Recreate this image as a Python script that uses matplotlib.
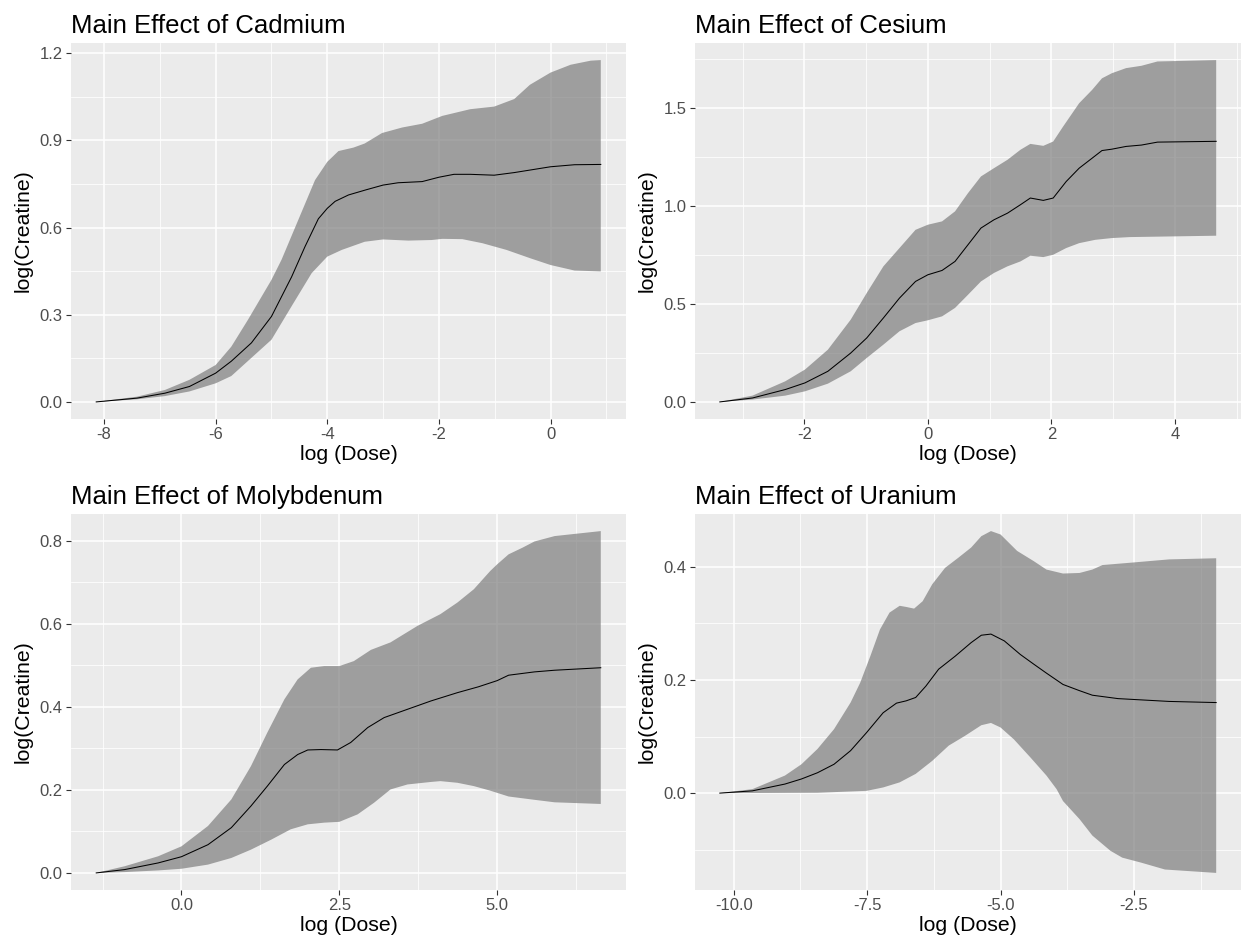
import numpy as np
import matplotlib
matplotlib.use("Agg")
import matplotlib.pyplot as plt
from matplotlib.ticker import FixedLocator, FormatStrFormatter

plt.rcParams['font.family'] = ['Liberation Sans', 'DejaVu Sans']
plt.rcParams['axes.unicode_minus'] = False

# ---- Cadmium ----
cd_x_mean = [-8.14, -7.41, -6.91, -6.47, -6.0, -5.72, -5.36, -5.0, -4.64, -4.40, -4.16, -4.0, -3.86,
             -3.62, -3.3, -3.0, -2.73, -2.3, -2.0, -1.73, -1.44, -1.01, -0.65, 0.0, 0.43, 0.90]
cd_mean = [0.0, 0.013, 0.03, 0.053, 0.099, 0.14, 0.203, 0.294, 0.43, 0.534, 0.63, 0.666, 0.69,
           0.712, 0.73, 0.746, 0.754, 0.758, 0.773, 0.783, 0.783, 0.78, 0.789, 0.809, 0.816, 0.817]
cd_x_up = [-8.14, -7.41, -6.91, -6.47, -6.0, -5.72, -5.42, -5.0, -4.82, -4.52, -4.22, -4.0, -3.80, -3.53,
           -3.33, -3.02, -2.66, -2.30, -1.94, -1.44, -1.01, -0.65, -0.37, 0.0, 0.36, 0.72, 0.90]
cd_up = [0.0, 0.018, 0.041, 0.076, 0.127, 0.19, 0.283, 0.42, 0.489, 0.626, 0.763, 0.826, 0.863, 0.875,
         0.889, 0.925, 0.944, 0.957, 0.984, 1.007, 1.016, 1.042, 1.091, 1.133, 1.16, 1.174, 1.176]
cd_x_lo = [-8.14, -7.41, -6.91, -6.47, -6.0, -5.72, -5.0, -4.64, -4.28, -4.0, -3.74, -3.33, -3.0, -2.55,
           -2.13, -1.94, -1.58, -1.22, -0.79, -0.36, 0.0, 0.43, 0.90]
cd_lo = [0.0, 0.009, 0.02, 0.036, 0.064, 0.089, 0.214, 0.329, 0.443, 0.5, 0.523, 0.551, 0.559, 0.555,
         0.557, 0.561, 0.56, 0.546, 0.523, 0.494, 0.471, 0.452, 0.449]

# ---- Cesium ----
cs_x_mean = [-3.37, -2.84, -2.31, -1.99, -1.62, -1.25, -0.99, -0.72, -0.46, -0.20, 0.0, 0.23, 0.44,
             0.65, 0.86, 1.07, 1.29, 1.50, 1.66, 1.87, 2.03, 2.24, 2.45, 2.66, 2.82, 2.98, 3.21,
             3.46, 3.72, 4.67]
cs_mean = [0.0, 0.02, 0.063, 0.097, 0.156, 0.249, 0.326, 0.428, 0.529, 0.614, 0.648, 0.67, 0.716,
           0.801, 0.886, 0.928, 0.962, 1.005, 1.039, 1.027, 1.039, 1.123, 1.191, 1.242, 1.281, 1.288,
           1.302, 1.309, 1.324, 1.328]
cs_x_up = [-3.37, -2.84, -2.31, -1.99, -1.62, -1.25, -0.99, -0.72, -0.46, -0.20, 0.0, 0.23, 0.44,
           0.65, 0.86, 1.07, 1.29, 1.50, 1.66, 1.87, 2.03, 2.19, 2.45, 2.66, 2.82, 2.98, 3.21,
           3.46, 3.72, 4.67]
cs_up = [0.0, 0.032, 0.105, 0.165, 0.266, 0.419, 0.555, 0.691, 0.784, 0.877, 0.903, 0.92, 0.971,
         1.064, 1.149, 1.191, 1.234, 1.285, 1.315, 1.305, 1.327, 1.403, 1.522, 1.59, 1.649, 1.675,
         1.701, 1.713, 1.735, 1.742]
cs_x_lo = [-3.37, -2.84, -2.31, -1.99, -1.62, -1.25, -0.99, -0.72, -0.46, -0.20, 0.0, 0.23, 0.44,
           0.65, 0.86, 1.07, 1.29, 1.50, 1.66, 1.87, 2.03, 2.24, 2.45, 2.71, 2.98, 3.27, 4.67]
cs_lo = [0.0, 0.012, 0.032, 0.054, 0.093, 0.156, 0.224, 0.292, 0.36, 0.402, 0.416, 0.436, 0.479,
         0.546, 0.614, 0.657, 0.691, 0.716, 0.745, 0.738, 0.75, 0.784, 0.809, 0.826, 0.835, 0.84, 0.847]

# ---- Molybdenum ----
mo_x_mean = [-1.35, -0.90, -0.37, 0.0, 0.42, 0.79, 1.10, 1.36, 1.63, 1.84, 2.0, 2.21, 2.47, 2.68,
             2.95, 3.21, 3.58, 3.95, 4.37, 4.70, 5.0, 5.18, 5.59, 5.91, 6.64]
mo_mean = [0.0, 0.008, 0.024, 0.039, 0.068, 0.109, 0.161, 0.209, 0.261, 0.285, 0.296, 0.297, 0.296,
           0.314, 0.35, 0.374, 0.394, 0.414, 0.434, 0.448, 0.463, 0.476, 0.484, 0.488, 0.494]
mo_x_up = [-1.35, -0.90, -0.37, 0.0, 0.42, 0.79, 1.10, 1.36, 1.63, 1.84, 2.05, 2.26, 2.50, 2.73,
           3.0, 3.31, 3.74, 4.10, 4.37, 4.63, 4.89, 5.0, 5.18, 5.40, 5.59, 5.91, 6.64]
mo_up = [0.0, 0.016, 0.04, 0.064, 0.113, 0.177, 0.257, 0.338, 0.418, 0.466, 0.494, 0.498, 0.498,
         0.51, 0.537, 0.555, 0.595, 0.623, 0.651, 0.683, 0.727, 0.743, 0.767, 0.783, 0.798, 0.811, 0.823]
mo_x_lo = [-1.35, -0.90, -0.37, 0.0, 0.42, 0.79, 1.10, 1.42, 1.73, 2.0, 2.26, 2.50, 2.79, 3.05,
           3.31, 3.58, 3.95, 4.10, 4.37, 4.63, 4.89, 5.18, 5.59, 5.91, 6.64]
mo_lo = [0.0, 0.002, 0.006, 0.01, 0.02, 0.036, 0.056, 0.08, 0.105, 0.117, 0.121, 0.123, 0.141, 0.169,
         0.201, 0.213, 0.219, 0.221, 0.217, 0.209, 0.198, 0.184, 0.176, 0.17, 0.166]

# ---- Uranium ----
u_x_mean = [-10.26, -9.65, -9.04, -8.73, -8.43, -8.12, -7.81, -7.51, -7.20, -6.95, -6.77, -6.59, -6.40,
            -6.16, -5.85, -5.55, -5.36, -5.18, -4.93, -4.63, -4.38, -4.14, -3.83, -3.52, -3.28,
            -2.80, -1.84, -0.96]
u_mean = [0.0, 0.004, 0.016, 0.025, 0.036, 0.051, 0.075, 0.107, 0.142, 0.159, 0.163, 0.169, 0.189,
          0.219, 0.242, 0.266, 0.279, 0.281, 0.269, 0.245, 0.228, 0.212, 0.192, 0.181, 0.173,
          0.167, 0.162, 0.16]
u_x_up = [-10.26, -9.65, -9.04, -8.73, -8.43, -8.12, -7.81, -7.63, -7.44, -7.26, -7.08, -6.89, -6.77,
          -6.62, -6.46, -6.28, -6.04, -5.79, -5.55, -5.36, -5.18, -5.0, -4.69, -4.38, -4.14, -3.83,
          -3.52, -3.28, -3.09, -2.58, -1.84, -0.96]
u_up = [0.0, 0.007, 0.031, 0.051, 0.078, 0.113, 0.16, 0.195, 0.242, 0.289, 0.319, 0.331, 0.329,
        0.326, 0.339, 0.369, 0.398, 0.416, 0.434, 0.454, 0.463, 0.457, 0.428, 0.41, 0.395, 0.388,
        0.389, 0.395, 0.403, 0.407, 0.413, 0.415]
u_x_lo = [-10.26, -8.43, -7.51, -7.20, -6.89, -6.59, -6.28, -5.97, -5.67, -5.36, -5.18, -5.0, -4.75,
          -4.44, -4.14, -3.95, -3.83, -3.52, -3.28, -2.94, -2.72, -2.36, -1.92, -0.96]
u_lo = [0.0, 0.0006, 0.004, 0.01, 0.019, 0.034, 0.057, 0.084, 0.101, 0.12, 0.124, 0.116, 0.095,
        0.063, 0.031, 0.007, -0.014, -0.046, -0.075, -0.102, -0.114, -0.123, -0.135, -0.141]

panels = [
    dict(title="Main Effect of Cadmium", xm=cd_x_mean, m=cd_mean, xu=cd_x_up, u=cd_up, xl=cd_x_lo, l=cd_lo,
         xmaj=[-8, -6, -4, -2, 0], xmin=[-9, -7, -5, -3, -1, 1], xfmt='%d',
         ymaj=[0.0, 0.3, 0.6, 0.9, 1.2], ymin=[0.15, 0.45, 0.75, 1.05], yfmt='%.1f',
         rect=[71, 43, 626, 419]),
    dict(title="Main Effect of Cesium", xm=cs_x_mean, m=cs_mean, xu=cs_x_up, u=cs_up, xl=cs_x_lo, l=cs_lo,
         xmaj=[-2, 0, 2, 4], xmin=[-3, -1, 1, 3, 5], xfmt='%d',
         ymaj=[0.0, 0.5, 1.0, 1.5], ymin=[0.25, 0.75, 1.25, 1.75], yfmt='%.1f',
         rect=[695, 43, 1241, 419]),
    dict(title="Main Effect of Molybdenum", xm=mo_x_mean, m=mo_mean, xu=mo_x_up, u=mo_up, xl=mo_x_lo, l=mo_lo,
         xmaj=[0.0, 2.5, 5.0], xmin=[-1.25, 1.25, 3.75, 6.25], xfmt='%.1f',
         ymaj=[0.0, 0.2, 0.4, 0.6, 0.8], ymin=[0.1, 0.3, 0.5, 0.7], yfmt='%.1f',
         rect=[71, 514, 626, 890]),
    dict(title="Main Effect of Uranium", xm=u_x_mean, m=u_mean, xu=u_x_up, u=u_up, xl=u_x_lo, l=u_lo,
         xmaj=[-10.0, -7.5, -5.0, -2.5], xmin=[-8.75, -6.25, -3.75, -1.25], xfmt='%.1f',
         ymaj=[0.0, 0.2, 0.4], ymin=[-0.1, 0.1, 0.3], yfmt='%.1f',
         rect=[695, 514, 1241, 890]),
]

W, H = 1244, 935
fig = plt.figure(figsize=(W / 100, H / 100), dpi=100)

for p in panels:
    x0, y0, x1, y1 = p['rect']
    ax = fig.add_axes([x0 / W, 1 - y1 / H, (x1 - x0) / W, (y1 - y0) / H])
    ax.set_facecolor('#EBEBEB')
    for s in ax.spines.values():
        s.set_visible(False)

    # ribbon polygon: upper edge forward, lower edge backward
    poly_x = np.concatenate([p['xu'], p['xl'][::-1]])
    poly_y = np.concatenate([p['u'], p['l'][::-1]])
    ax.fill(poly_x, poly_y, color='#757575', alpha=0.65, lw=0, zorder=2)
    ax.plot(p['xm'], p['m'], color='black', lw=0.75, zorder=3)

    # ggplot-style 5% expansion
    allx = p['xu'] + p['xl'] + p['xm']
    ally = p['u'] + p['l'] + p['m']
    dx = (max(allx) - min(allx)) * 0.05
    dy = (max(ally) - min(ally)) * 0.05
    ax.set_xlim(min(allx) - dx, max(allx) + dx)
    ax.set_ylim(min(ally) - dy, max(ally) + dy)

    ax.xaxis.set_major_locator(FixedLocator(p['xmaj']))
    ax.xaxis.set_minor_locator(FixedLocator(p['xmin']))
    ax.yaxis.set_major_locator(FixedLocator(p['ymaj']))
    ax.yaxis.set_minor_locator(FixedLocator(p['ymin']))
    ax.xaxis.set_major_formatter(FormatStrFormatter(p['xfmt']))
    ax.yaxis.set_major_formatter(FormatStrFormatter(p['yfmt']))

    ax.grid(True, which='major', color='white', lw=1.1, zorder=0)
    ax.grid(True, which='minor', color='white', lw=0.55, zorder=0)
    ax.set_axisbelow(True)

    ax.tick_params(which='major', length=3.5, width=0.8, color='#333333',
                   labelsize=12, labelcolor='#4D4D4D', pad=2.5)
    ax.tick_params(which='minor', length=0)

    ax.set_xlabel('log (Dose)', fontsize=15.3, labelpad=2)
    ax.set_ylabel('log(Creatine)', fontsize=15.3, labelpad=5)
    ax.set_title(p['title'], loc='left', fontsize=18.5, pad=7)

fig.savefig('out.png', dpi=100, facecolor='white')
